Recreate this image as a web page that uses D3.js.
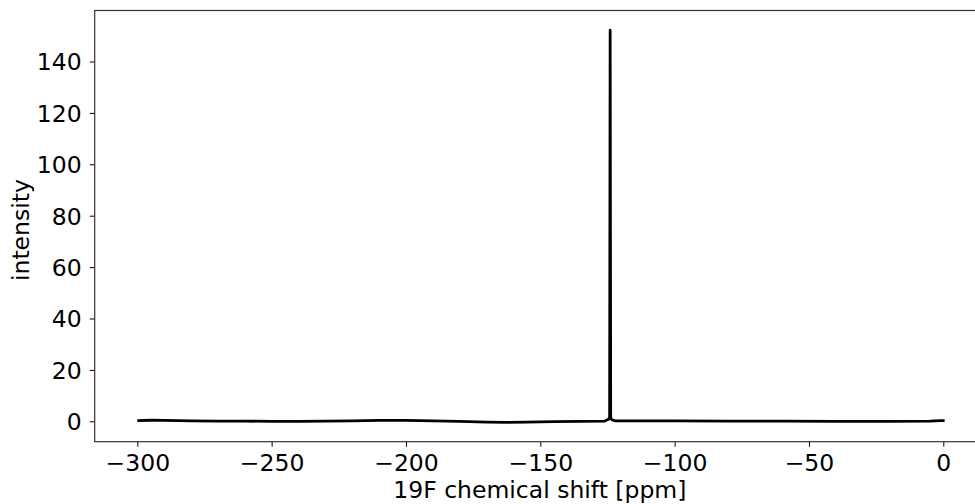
<!DOCTYPE html>
<html>
<head>
<meta charset="utf-8">
<script src="https://cdn.jsdelivr.net/npm/d3@7"></script>
<style>
  body { margin: 0; background: #fff; }
  svg { display: block; }
  .axis text { font-family: 'DejaVu Sans', sans-serif; font-size: 23.5px; fill: #000; }
  .axis line { stroke: #000; stroke-width: 1; }
  .axis path { display: none; }
  .label { font-family: 'DejaVu Sans', sans-serif; font-size: 23.5px; fill: #000; }
</style>
</head>
<body>
<div class="spectrum"></div>
<script>
'use strict';

// 19F spectrum (ppm, intensity)
var shift = [-300, -295, -290, -280, -270, -260, -250, -240, -230, -220, -210, -200,
  -190, -180, -170, -162, -155, -145, -135, -126, -124.6, -124.2, -124.0, -123.8,
  -123.4, -122, -110, -100, -80, -60, -40, -20, -5, -1, 0.5];
var intensity = [0.3, 0.4, 0.35, 0.2, 0.1, 0.05, 0.0, 0.0, 0.05, 0.2, 0.35, 0.35,
  0.2, 0.0, -0.3, -0.45, -0.3, -0.1, 0.0, 0.1, 0.8, 1.5, 152.2, 1.5,
  0.6, 0.2, 0.2, 0.15, 0.1, 0.05, 0.0, 0.0, 0.1, 0.3, 0.3];
var xTicks = [-300, -250, -200, -150, -100, -50, 0];
var yTicks = [0, 20, 40, 60, 80, 100, 120, 140];

var data = shift.map(function(s, i) {
  return {ppm: s, val: intensity[i]};
});

var width = 975, height = 504;
var box = {left: 94.7, top: 10.5, right: 985, bottom: 441.7};

var x = d3.scaleLinear()
  .domain([-300, 0])
  .range([137.3, 943.3]);

var y = d3.scaleLinear()
  .domain([0, 140])
  .range([421.3, 61.5]);

var svg = d3.select('.spectrum').append('svg')
  .attr('width', width)
  .attr('height', height);

svg.append('defs').append('clipPath')
  .attr('id', 'plotclip')
  .append('rect')
  .attr('x', box.left)
  .attr('y', box.top)
  .attr('width', box.right - box.left)
  .attr('height', box.bottom - box.top);

///////////////////////SPECTRUM LINE///////////////////////////////
var line = d3.line()
  .x(function(d) { return x(d.ppm); })
  .y(function(d) { return y(d.val); });

svg.append('path')
  .datum(data)
  .attr('clip-path', 'url(#plotclip)')
  .attr('fill', 'none')
  .attr('stroke', '#000')
  .attr('stroke-width', 2.8)
  .attr('stroke-linejoin', 'round')
  .attr('d', line);

///////////////////////AXES///////////////////////////////
svg.append('g')
  .attr('class', 'axis')
  .attr('transform', 'translate(0,' + box.bottom + ')')
  .call(d3.axisBottom(x).tickValues(xTicks).tickSize(5))
  .selectAll('text')
    .attr('y', 29)
    .attr('dy', 0);

svg.append('g')
  .attr('class', 'axis')
  .attr('transform', 'translate(' + box.left + ',0)')
  .call(d3.axisLeft(y).tickValues(yTicks).tickSize(5).tickPadding(8))
  .selectAll('text')
    .attr('dy', '0.36em');

// frame (right side falls outside the picture)
svg.append('rect')
  .attr('x', box.left)
  .attr('y', box.top)
  .attr('width', box.right - box.left)
  .attr('height', box.bottom - box.top)
  .attr('fill', 'none')
  .attr('stroke', '#333')
  .attr('stroke-width', 1.2);

svg.append('text')
  .attr('class', 'label')
  .attr('x', (box.left + box.right) / 2)
  .attr('y', 498)
  .attr('text-anchor', 'middle')
  .text('19F chemical shift [ppm]');

svg.append('text')
  .attr('class', 'label')
  .attr('transform', 'translate(29,' + ((box.top + box.bottom) / 2 + 4) + ') rotate(-90)')
  .attr('text-anchor', 'middle')
  .text('intensity');
</script>
</body>
</html>
